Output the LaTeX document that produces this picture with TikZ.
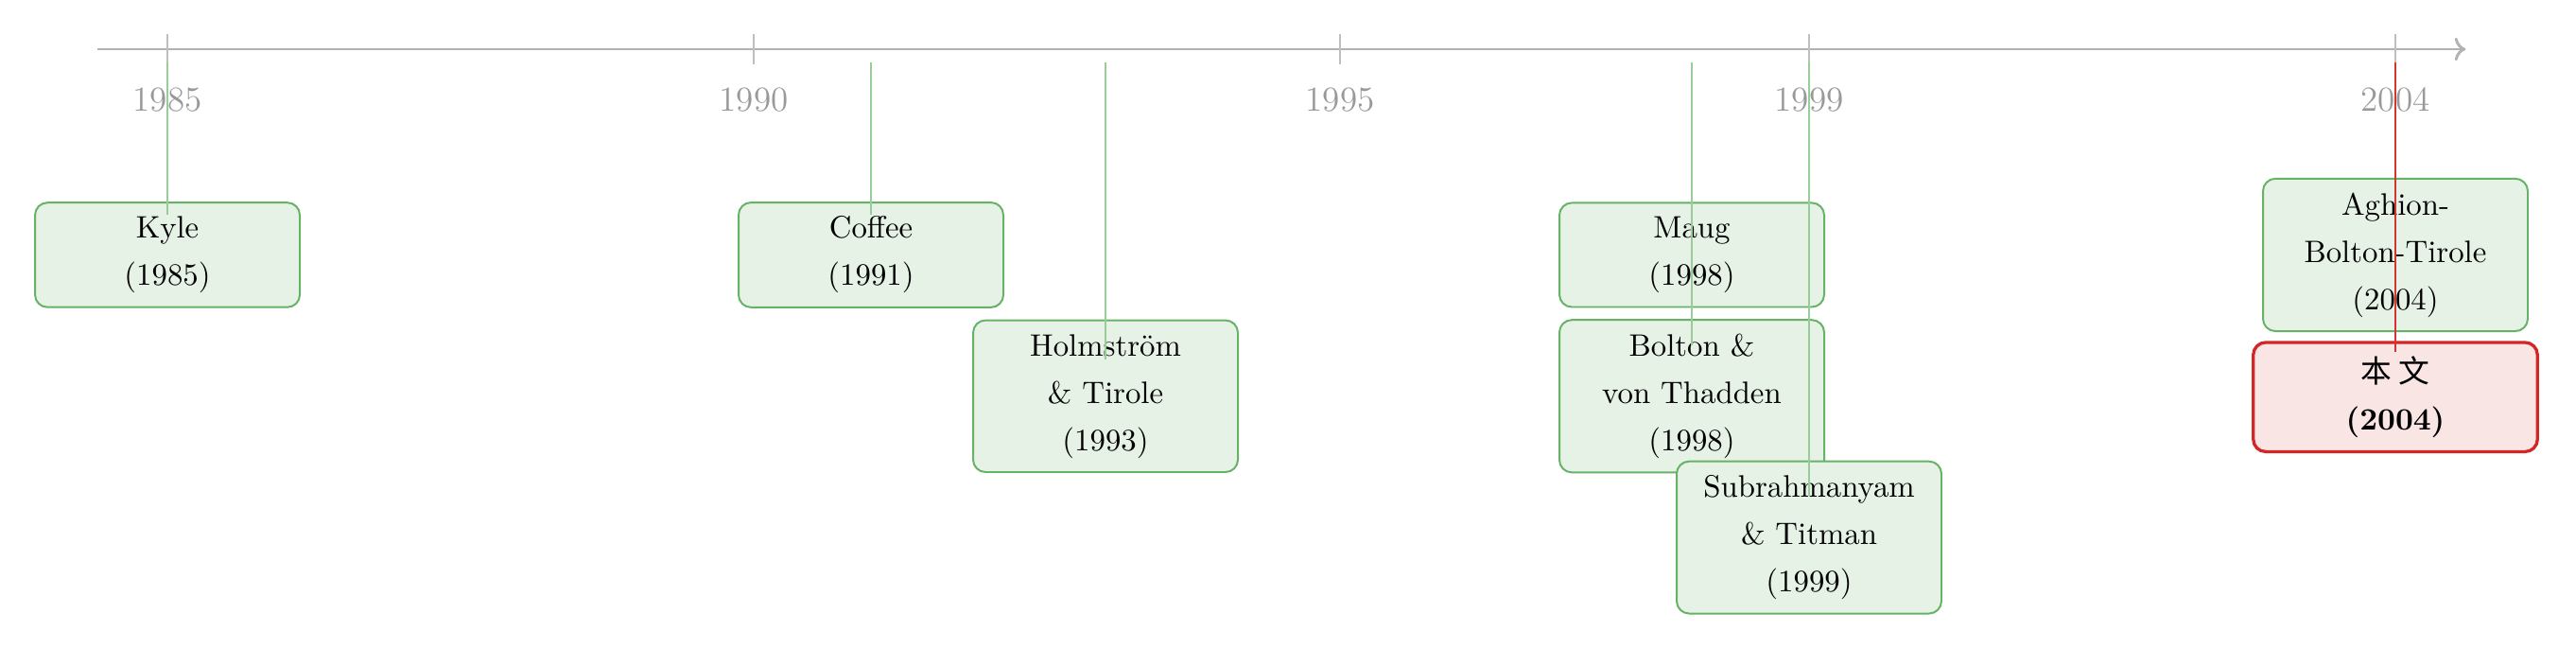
\documentclass[tikz,border=0pt]{standalone}
\usepackage{fontspec}
\newfontfamily\cjk{Noto Sans CJK SC}
\usetikzlibrary{arrows.meta}

\begin{document}
\begin{tikzpicture}[x=1.3286cm, y=1cm,
    paper/.style={draw=green!50!black!60, fill=green!50!black!10, semithick,
      rounded corners=4pt, align=center, minimum width=3cm, inner ysep=4.5pt,
      font=\linespread{1.27}\selectfont},
    ours/.style={paper, draw=red!80!black!85, fill=red!80!black!10,
      line width=1pt, minimum width=3.22cm},
    link/.style={green!50!black!40},
    ourlink/.style={red!80!black!80},
    yearlabel/.style={gray!80, font=\fontsize{11.3}{13.6}\selectfont}]
  \useasboundingbox (-1.897cm,0.557cm) rectangle (27.29cm,-6.793cm);

  % Time axis with ticks
  \draw[gray!60, line width=0.9pt, ->] (-0.6,0) -- (19.6,0);
  \foreach \yr in {1985,1990,1995,1999,2004} {
    \draw[gray!50, thin] (\yr-1985,0.17) -- (\yr-1985,-0.17);
    \node[yearlabel] (y\yr) at (\yr-1985,-0.57) {\yr};
  }

  % Papers
  \node[paper] (kyle) at (0,-2.33) {Kyle\\(1985)};
  \node[paper] (coffee) at (6,-2.33) {Coffee\\(1991)};
  \node[paper] (holm) at (8,-3.93) {Holmström\\\& Tirole\\(1993)};
  \node[paper] (maug) at (13,-2.33) {Maug\\(1998)};
  \node[paper] (bolton) at (13,-3.93) {Bolton \&\\von Thadden\\(1998)};
  \node[paper] (subra) at (14,-5.53) {Subrahmanyam\\\& Titman\\(1999)};
  \node[paper] (abt) at (19,-2.33) {Aghion-\\Bolton-Tirole\\(2004)};
  \node[ours] (ours) at (19,-3.94) {{\cjk 本 文}\\\textbf{(2004)}};

  % Links from the axis down to each paper
  \coordinate (t85) at (0,-0.15);
  \coordinate (t91) at (6,-0.15);
  \coordinate (t93) at (8,-0.15);
  \coordinate (t98) at (13,-0.15);
  \coordinate (t99) at (14,-0.15);
  \coordinate (t04) at (19,-0.15);
  \draw[link] (t85) -- ([yshift=-0.15cm]kyle.north);
  \draw[link] (t91) -- ([yshift=-0.15cm]coffee.north);
  \draw[link] (t93) -- ([yshift=-0.46cm]holm.north);
  \draw[link] (t98) -- ([yshift=-0.15cm]maug.north);
  \draw[link] (t98) -- ([yshift=-0.30cm]bolton.north);
  \draw[link] (t99) -- ([yshift=-0.40cm]subra.north);
  \draw[link] (t04) -- ([yshift=-0.15cm]abt.north);
  \draw[ourlink] (t04) -- ([yshift=-0.13cm]ours.north);
\end{tikzpicture}
\end{document}
